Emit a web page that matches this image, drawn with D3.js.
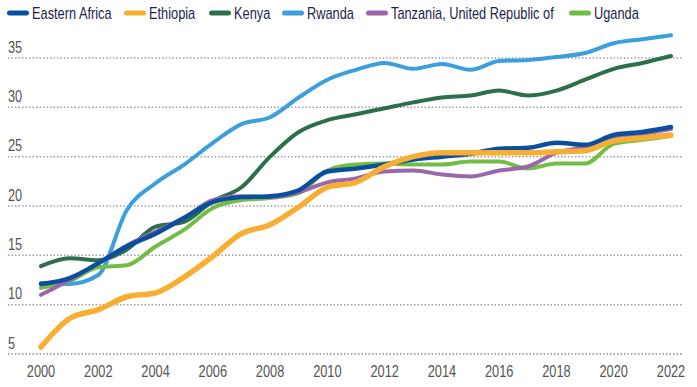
<!DOCTYPE html>
<html>
<head>
<meta charset="utf-8">
<script src="https://cdn.jsdelivr.net/npm/d3@7"></script>
<style>
  body { margin: 0; background: #fff; }
  svg { display: block; font-family: "Liberation Sans", Arial, sans-serif; }
</style>
</head>
<body>
<script>
const years = d3.range(2000, 2023);
const yTicks = [5, 10, 15, 20, 25, 30, 35];
const xTicks = d3.range(2000, 2023, 2);

const easternAfrica = [12.1, 12.7, 14.2, 15.9, 17.2, 18.8, 20.4, 20.9, 21.0, 21.6, 23.5, 23.8, 24.2, 24.7, 25.0, 25.3, 25.8, 25.9, 26.4, 26.2, 27.2, 27.5, 28.0];
const ethiopia = [5.7, 8.6, 9.5, 10.8, 11.2, 12.8, 14.9, 17.2, 18.1, 19.9, 21.9, 22.4, 24.0, 25.0, 25.4, 25.4, 25.4, 25.4, 25.5, 25.6, 26.6, 26.9, 27.2];
const kenya = [13.9, 14.7, 14.5, 15.6, 17.9, 18.4, 20.5, 21.9, 25.0, 27.5, 28.7, 29.3, 29.9, 30.5, 31.0, 31.2, 31.7, 31.2, 31.7, 32.8, 33.9, 34.5, 35.2];
const rwanda = [12.2, 12.1, 13.0, 19.6, 22.3, 24.2, 26.4, 28.3, 29.0, 31.0, 32.8, 33.8, 34.5, 33.9, 34.4, 33.8, 34.7, 34.8, 35.1, 35.5, 36.5, 36.9, 37.3];
const tanzania = [11.0, 12.5, 14.2, 16.0, 17.4, 18.8, 20.6, 21.0, 20.9, 21.4, 22.4, 22.8, 23.5, 23.6, 23.2, 23.0, 23.6, 24.0, 25.4, 26.0, 26.9, 27.3, 27.8];
const uganda = [11.7, 12.4, 13.8, 14.0, 15.9, 17.6, 19.8, 20.6, 20.8, 21.3, 23.6, 24.2, 24.3, 24.2, 24.2, 24.5, 24.5, 23.8, 24.3, 24.3, 26.3, 26.7, 27.1];

const seriesNames = ["Eastern Africa", "Ethiopia", "Kenya", "Rwanda", "Tanzania, United Republic of", "Uganda"];
const seriesColors = ["#0a4f9e", "#f8ae33", "#2d6e4c", "#3b9fdd", "#9b66ac", "#72bd45"];
const seriesValues = [easternAfrica, ethiopia, kenya, rwanda, tanzania, uganda];

const width = 697, height = 387;
const narrow = 0.8; // squeeze Arial metrics down to a condensed face

const svg = d3.select("body").append("svg").attr("width", width).attr("height", height);

const x = d3.scaleLinear().domain([2000, 2022]).range([41, 671]);
const y = d3.scaleLinear().domain([5, 35]).range([354, 58]);

// gridlines + y labels
const grid = svg.append("g");
grid.selectAll("line")
  .data(yTicks)
  .join("line")
  .attr("x1", 8)
  .attr("x2", 682)
  .attr("y1", (d) => y(d))
  .attr("y2", (d) => y(d))
  .attr("stroke", (d) => (d === 5 ? "#8a8a8a" : "#a0a0a0"))
  .attr("stroke-width", 1.5)
  .attr("stroke-dasharray", "1.5,2");

grid.selectAll("text")
  .data(yTicks)
  .join("text")
  .attr("transform", (d) => `translate(8,${y(d) - 5.5}) scale(${narrow},1)`)
  .attr("font-size", 16)
  .attr("fill", "#555")
  .text((d) => d);

// x labels
svg.append("g")
  .selectAll("text")
  .data(xTicks)
  .join("text")
  .attr("transform", (d) => `translate(${x(d)},377) scale(${narrow},1)`)
  .attr("text-anchor", "middle")
  .attr("font-size", 16)
  .attr("fill", "#555")
  .text((d) => d);

const line = d3.line()
  .x((d, i) => x(years[i]))
  .y((d) => y(d))
  .curve(d3.curveMonotoneX);

// draw order: Kenya, Rwanda, Uganda, Tanzania, Eastern Africa, Ethiopia
const order = [2, 3, 5, 4, 0, 1];
svg.append("g")
  .selectAll("path")
  .data(order)
  .join("path")
  .attr("d", (i) => line(seriesValues[i]))
  .attr("fill", "none")
  .attr("stroke", (i) => seriesColors[i])
  .attr("stroke-width", (i) => (i === 1 ? 5.5 : i === 0 ? 4.5 : 4))
  .attr("stroke-linecap", "round")
  .attr("stroke-linejoin", "round");

// legend
const legendX = [8, 125, 210, 283, 367, 570];
const legend = svg.append("g")
  .selectAll("g")
  .data(seriesNames)
  .join("g")
  .attr("transform", (d, i) => `translate(${legendX[i]},13)`);

legend.append("line")
  .attr("x1", 1.5)
  .attr("x2", 18.5)
  .attr("stroke", (d, i) => seriesColors[i])
  .attr("stroke-width", 5)
  .attr("stroke-linecap", "round");

legend.append("text")
  .attr("transform", `translate(24,5.5) scale(${narrow},1)`)
  .attr("font-size", 16)
  .attr("fill", "#1d2545")
  .text((d) => d);
</script>
</body>
</html>
